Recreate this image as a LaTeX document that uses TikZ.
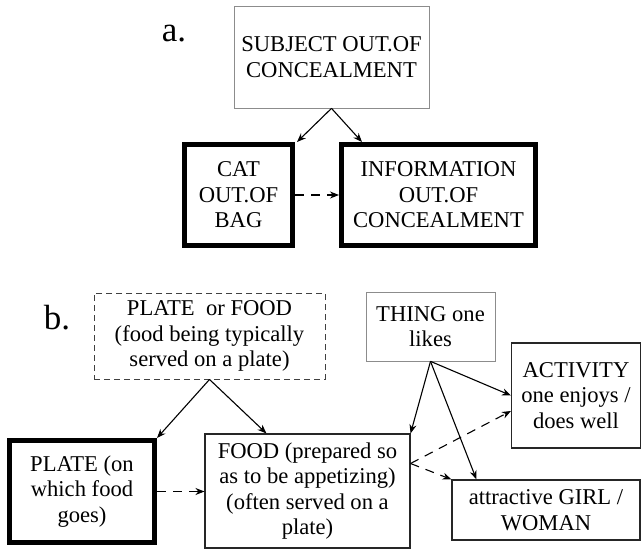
\documentclass[tikz,border=0pt]{standalone}
\usepackage{fontspec}
\setmainfont{Liberation Serif}
\usetikzlibrary{arrows.meta,positioning,calc}
\tikzset{
  txt/.style={font=\fontsize{22.6}{25.5}\selectfont, align=center, inner sep=0pt},
  thinbox/.style={txt, draw=black!45, line width=0.7pt, rectangle},
  plainbox/.style={txt, draw=black!85, line width=1.1pt, rectangle},
  thickbox/.style={txt, draw=black, line width=5pt, rectangle},
  dashbox/.style={txt, draw=black!75, line width=0.9pt, dash pattern=on 6pt off 4pt, rectangle},
  arr/.style={draw=black, line width=1.1pt, -{Stealth[length=9pt,width=7pt]}},
  darr/.style={arr, dash pattern=on 9pt off 7pt},
  lab/.style={font=\fontsize{35}{37}\selectfont, inner sep=0pt}
}
\begin{document}
\begin{tikzpicture}[x=1pt,y=-1pt]
\useasboundingbox (0,0) rectangle (643,549);
\fill[white] (0,0) rectangle (643,549);
% part a
\node[lab] (la) at (174,34) {a.};
\node[thinbox, minimum width=195pt, minimum height=102pt] (subj) at (331.5,57) {SUBJECT OUT.OF\\CONCEALMENT};
\node[thickbox, minimum width=108pt, minimum height=101pt] (cat) at (238.5,195) {CAT\\OUT.OF\\BAG};
\node[thickbox, minimum width=194pt, minimum height=101pt] (info) at (438.5,195) {INFORMATION\\OUT.OF\\CONCEALMENT};
\draw[arr] (subj.south) -- ([xshift=2pt]cat.north east);
\draw[arr] (subj.south) -- ([xshift=23pt]info.north west);
\draw[darr] (cat.east) -- (info.west);
% part b
\node[lab] (lb) at (57,318) {b.};
\node[dashbox, minimum width=231pt, minimum height=86pt] (pof) at (209.5,336) {PLATE\ \ or FOOD\\(food being typically\\served on a plate)};
\node[thickbox, minimum width=145pt, minimum height=102pt] (plate) at (82,491.5) {PLATE (on\\which food\\goes)};
\node[plainbox, minimum width=205pt, minimum height=114pt] (food) at (307.5,491) {FOOD (prepared so\\as to be appetizing)\\(often served on a\\plate)};
\node[thinbox, minimum width=129pt, minimum height=69pt] (thing) at (430.5,326.5) {THING one\\likes};
\node[plainbox, minimum width=129pt, minimum height=105pt] (act) at (576,395.5) {ACTIVITY\\one enjoys /\\does well};
\node[plainbox, minimum width=188pt, minimum height=60pt] (girl) at (546,510) {attractive GIRL /\\WOMAN};
\draw[arr] (pof.south) -- (plate.north east);
\draw[arr] (pof.south) -- ([xshift=62pt]food.north west);
\draw[darr] (plate.east) -- (food.west |- plate.east);
\draw[arr] (thing.south) -- (food.north east);
\draw[arr] (thing.south) -- ([xshift=25pt]girl.north west);
\draw[arr] (thing.south) -- (act.west);
\coordinate (fr) at ([yshift=27.5pt]food.east);
\draw[darr] (fr) -- ([yshift=-15.5pt]act.west);
\draw[darr] (fr) -- (girl.north west);
\end{tikzpicture}
\end{document}
